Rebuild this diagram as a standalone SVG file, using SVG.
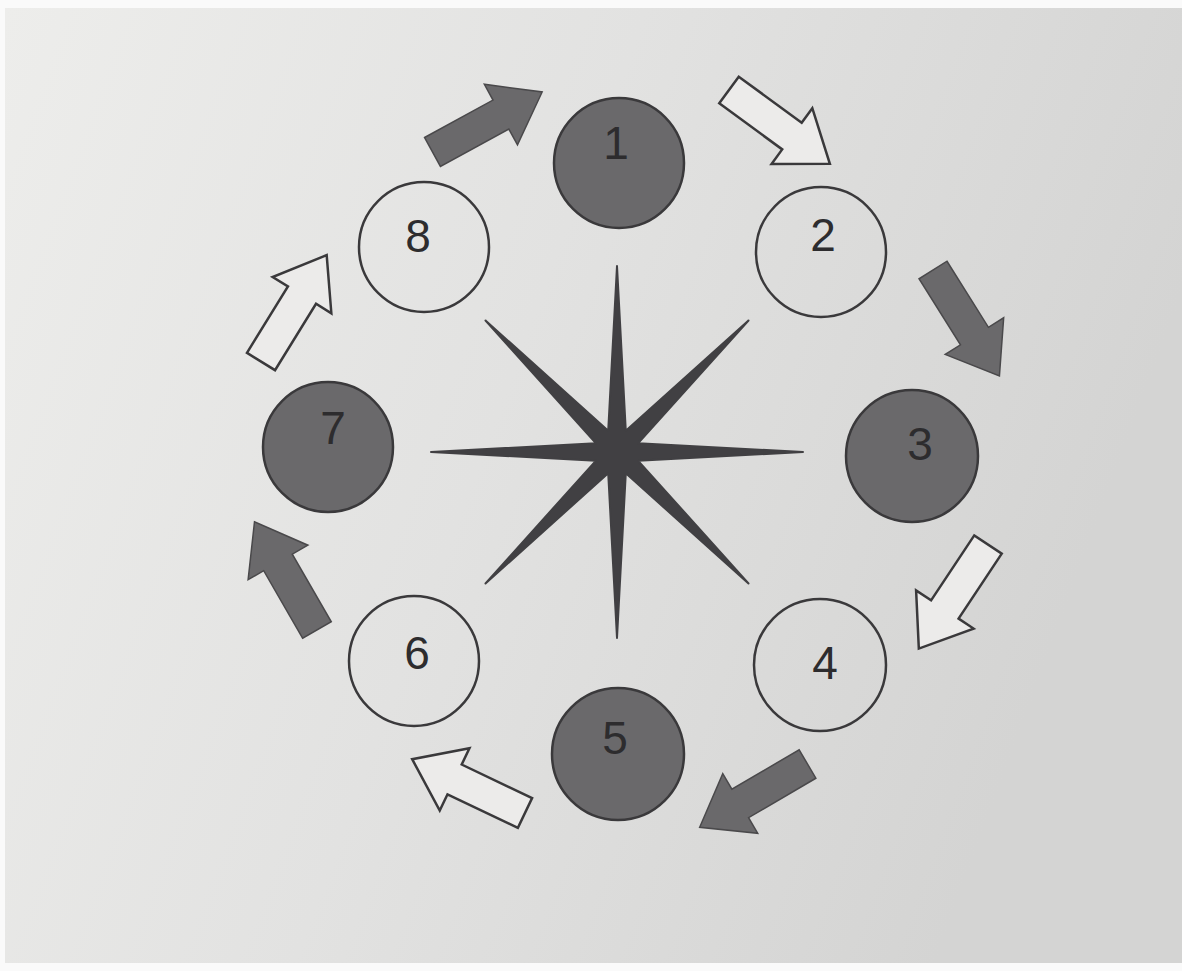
<svg xmlns="http://www.w3.org/2000/svg" width="1182" height="971" viewBox="0 0 1182 971">
  <defs>
    <linearGradient id="paper" x1="0" y1="0" x2="1" y2="0.3">
      <stop offset="0" stop-color="#ededeb"/>
      <stop offset="0.5" stop-color="#e2e2e1"/>
      <stop offset="1" stop-color="#d4d4d3"/>
    </linearGradient>
    <path id="arrow" d="M0,-16.5 L78,-16.5 L78,-34.5 L125,0 L78,34.5 L78,16.5 L0,16.5 Z"/>
    <style>
      .dark { fill: #6a696b; stroke: #3a393b; stroke-width: 2.5; }
      .open { fill: none; stroke: #3a393b; stroke-width: 2.5; }
      .arrowFill { fill: #6a696b; stroke: #4a494b; stroke-width: 1.5; stroke-linejoin: miter; }
      .arrowOpen { fill: #ecebea; stroke: #3a393b; stroke-width: 2.5; stroke-linejoin: miter; }
      .num { font-family: "Liberation Sans", Arial, sans-serif; font-size: 46px; fill: #2d2c2e; text-anchor: middle; }
      .star { fill: #414043; stroke: #414043; stroke-width: 2; stroke-linejoin: round; }
    </style>
  </defs>
  <rect x="0" y="0" width="1182" height="971" fill="#fafafa"/>
  <rect x="5" y="8" width="1177" height="955" fill="url(#paper)"/>

  <g id="connectors">
    <use href="#arrow" class="arrowFill" transform="translate(432.5,152) rotate(-28.7)"/>
    <use href="#arrow" class="arrowOpen" transform="translate(729,90) rotate(36.2)"/>
    <use href="#arrow" class="arrowFill" transform="translate(933,270) rotate(57.9)"/>
    <use href="#arrow" class="arrowOpen" transform="translate(988,544.5) rotate(123.6)"/>
    <use href="#arrow" class="arrowFill" transform="translate(807.5,764) rotate(149.6)"/>
    <use href="#arrow" class="arrowOpen" transform="translate(525,813) rotate(205.5)"/>
    <use href="#arrow" class="arrowFill" transform="translate(317,630) rotate(240)"/>
    <use href="#arrow" class="arrowOpen" transform="translate(261,361.5) rotate(301.7)"/>
  </g>

  <g id="star">
    <polygon class="star" points="803,452 638.25,460.8 748.5,583.5 625.8,473.25 617,638 608.2,473.25 485.5,583.5 595.75,460.8 431,452 595.75,443.2 485.5,320.5 608.2,430.75 617,266 625.8,430.75 748.5,320.5 638.25,443.2"/>
  </g>

  <g id="node1"><circle class="dark" cx="619" cy="163" r="65"/><text class="num" x="616" y="159">1</text></g>
  <g id="node2"><circle class="open" cx="821" cy="252" r="65"/><text class="num" x="823" y="251">2</text></g>
  <g id="node3"><circle class="dark" cx="912" cy="456" r="66"/><text class="num" x="920" y="460">3</text></g>
  <g id="node4"><circle class="open" cx="820" cy="665" r="66"/><text class="num" x="825" y="679">4</text></g>
  <g id="node5"><circle class="dark" cx="618" cy="754" r="66"/><text class="num" x="615" y="754">5</text></g>
  <g id="node6"><circle class="open" cx="414" cy="661" r="65"/><text class="num" x="417" y="669">6</text></g>
  <g id="node7"><circle class="dark" cx="328" cy="447" r="65"/><text class="num" x="333" y="444">7</text></g>
  <g id="node8"><circle class="open" cx="424" cy="247" r="65"/><text class="num" x="418" y="252">8</text></g>
</svg>
